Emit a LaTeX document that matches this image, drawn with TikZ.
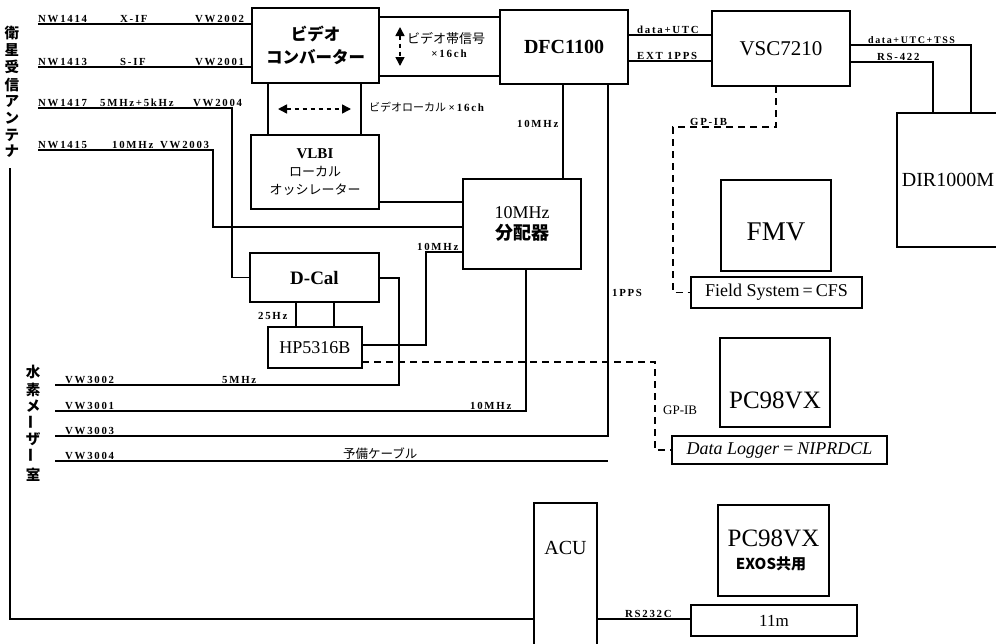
\documentclass[tikz,border=0pt]{standalone}
\usepackage{fontspec}
\setmainfont{Liberation Serif}
\newfontfamily\lbl[LetterSpace=16]{Liberation Serif}
\newfontfamily\jp{Noto Sans CJK JP}
\usetikzlibrary{arrows.meta}
\begin{document}
\begin{tikzpicture}[x=1pt,y=-1pt,
  box/.style={draw, line width=1.3pt, inner sep=0pt, outer sep=0pt, rectangle, align=center},
  wire/.style={line width=1.3pt},
  dsh/.style={line width=1.3pt, dash pattern=on 7pt off 5pt},
  lab/.style={inner sep=0pt, anchor=base west, font=\lbl\bfseries\fontsize{10.8}{12}\selectfont},
  vch/.style={inner sep=0pt, font=\jp\bfseries\fontsize{14.5}{14}\selectfont},
  darrow/.style={line width=1.5pt, dash pattern=on 4pt off 4pt, {Triangle[length=9pt,width=9pt]}-{Triangle[length=9pt,width=9pt]}},
]
\useasboundingbox (0,0) rectangle (996,643);
\fill[white] (0,0) rectangle (996,643);
\clip (0,0) rectangle (996,643);

% ---------- boxes ----------
\node[box, minimum width=127pt, minimum height=75pt, font=\jp\bfseries\fontsize{16.5}{23}\selectfont] (vc) at (315.5,45.5) {ビデオ\\コンバーター};
\node[box, minimum width=128pt, minimum height=74pt, font=\jp\fontsize{13}{18}\selectfont] (vlbi) at (315,172) {{\rmfamily\bfseries\fontsize{15}{18}\selectfont VLBI}\\ローカル\\オッシレーター};
\node[box, minimum width=128pt, minimum height=74pt, font=\bfseries\fontsize{20}{24}\selectfont] (dfc) at (564,47) {DFC1100};
\node[box, minimum width=138pt, minimum height=75pt, font=\fontsize{21}{24}\selectfont] (vsc) at (781,48.5) {VSC7210};
\node[box, minimum width=102pt, minimum height=134pt, font=\fontsize{20}{24}\selectfont] (dir) at (948,180) {DIR1000M};
\node[box, minimum width=110pt, minimum height=91pt] (fmv) at (776,225.5) {};
\node[font=\fontsize{27}{30}\selectfont] (fmvt) at (776,232) {FMV};
\node[box, minimum width=171pt, minimum height=31pt, font=\fontsize{18}{20}\selectfont] (fs) at (776.5,292.5) {Field System\,=\,CFS};
\node[box, minimum width=118pt, minimum height=90pt, font=\fontsize{18}{21}\selectfont] (div) at (522,224) {10MHz\\{\jp\bfseries 分配器}};
\node[box, minimum width=129pt, minimum height=49pt, font=\bfseries\fontsize{19}{22}\selectfont] (dcal) at (314.5,277.5) {D-Cal};
\node[box, minimum width=94pt, minimum height=41pt, font=\fontsize{18}{20}\selectfont] (hp) at (315,347.5) {HP5316B};
\node[box, minimum width=110pt, minimum height=89pt] (pc1) at (775,382.5) {};
\node[font=\fontsize{25}{28}\selectfont] (pc1t) at (775,400) {PC98VX};
\node[box, minimum width=215pt, minimum height=28pt, font=\itshape\fontsize{18}{20}\selectfont] (dl) at (779.5,450) {Data Logger\,=\,NIPRDCL};
\node[box, minimum width=111pt, minimum height=91pt] (pc2) at (773.5,550.5) {};
\node[font=\fontsize{25}{28}\selectfont] (pc2t) at (773.5,538) {PC98VX};
\node[font=\jp\bfseries\fontsize{15}{18}\selectfont] (pc2s) at (771,564) {EXOS共用};
\node[box, minimum width=166pt, minimum height=31pt, font=\fontsize{17}{20}\selectfont] (m11) at (774,620.5) {11m};
\node[box, minimum width=63pt, minimum height=157pt] (acu) at (565.5,581.5) {};
\node[font=\fontsize{20}{24}\selectfont] (acut) at (565.5,548) {ACU};

% ---------- vertical titles ----------
\node[vch] (t1) at (12,33) {衛};
\node[vch] (t2) at (12,50) {星};
\node[vch] (t3) at (12,67) {受};
\node[vch] (t4) at (12,85) {信};
\node[vch] (t5) at (12,101) {ア};
\node[vch] (t6) at (12,118) {ン};
\node[vch] (t7) at (12,135) {テ};
\node[vch] (t8) at (12,151) {ナ};
\node[vch] (h1) at (33,372) {水};
\node[vch] (h2) at (33,390) {素};
\node[vch] (h3) at (33,406) {メ};
\node[vch, rotate=90] (h4) at (33,422) {ー};
\node[vch] (h5) at (33,439) {ザ};
\node[vch, rotate=90] (h6) at (33,455) {ー};
\node[vch] (h7) at (33,475) {室};

% ---------- free line ends ----------
\coordinate (n1414) at (38,24);
\coordinate (n1413) at (38,67);
\coordinate (n1417) at (38,108);
\coordinate (n1415) at (38,150);
\coordinate (v3002) at (55,385);
\coordinate (v3001) at (55,411);
\coordinate (v3003) at (55,436);
\coordinate (v3004) at (55,461);
\coordinate (v3004e) at (608,461);
\coordinate (ant) at (10,168);

% ---------- connectors ----------
\draw[wire] (n1414) -- (n1414 -| vc.west);
\draw[wire] (n1413) -- (n1413 -| vc.west);
\draw[wire] (n1417) -- (232,108) |- (dcal.west);
\draw[wire] (n1415) -- (213,150) |- (div.west |- 0,227);
\draw[wire] (vlbi.east |- 0,202) -- (div.west |- 0,202);
\draw[wire] (vc.east |- 0,17) -- (dfc.west |- 0,17);
\draw[wire] (vc.east |- 0,76) -- (dfc.west |- 0,76);
\draw[wire] (vc.south -| 268,0) -- (vlbi.north -| 268,0);
\draw[wire] (vc.south -| 361,0) -- (vlbi.north -| 361,0);
\draw[wire] (dfc.east |- 0,35) -- (vsc.west |- 0,35);
\draw[wire] (dfc.east |- 0,61) -- (vsc.west |- 0,61);
\draw[wire] (vsc.east |- 0,45) -| (dir.north -| 971,0);
\draw[wire] (vsc.east |- 0,62) -| (dir.north -| 933,0);
\draw[wire] (dfc.south -| 563,0) -- (div.north -| 563,0);
\draw[wire] (dfc.south -| 608,0) |- (v3003);
\draw[wire] (div.south -| 526,0) |- (v3001);
\draw[wire] (dcal.east |- 0,278) -- (399,278) |- (v3002);
\draw[wire] (hp.east |- 0,345) -- (426,345) |- (div.west |- 0,252);
\draw[wire] (dcal.south -| 296,0) -- (hp.north -| 296,0);
\draw[wire] (dcal.south -| 334,0) -- (hp.north -| 334,0);
\draw[wire] (v3004) -- (v3004e);
\draw[wire] (ant) |- (acu.west |- 0,619);
\draw[wire] (acu.east |- 0,619) -- (m11.west |- 0,619);
\draw[dsh] (hp.east |- 0,362) -- (655,362) |- (dl.west);
\draw[dsh] (vsc.south -| 776,0) |- (673,127) |- (fs.west);
\draw[darrow] (400,27) -- (400,66);
\draw[darrow] (278,109) -- (351,109);

% ---------- labels ----------
\node[lab] at (38,22.5) {NW1414};
\node[lab] at (120,22.5) {X-IF};
\node[lab] at (195,22.5) {VW2002};
\node[lab] at (38,65.5) {NW1413};
\node[lab] at (120,65.5) {S-IF};
\node[lab] at (195,65.5) {VW2001};
\node[lab] at (38,106.5) {NW1417};
\node[lab] at (100,106.5) {5MHz+5kHz};
\node[lab] at (193,106.5) {VW2004};
\node[lab] at (38,148.5) {NW1415};
\node[lab] at (112,148.5) {10MHz};
\node[lab] at (160,148.5) {VW2003};
\node[lab] at (65,383.5) {VW3002};
\node[lab] at (222,383.5) {5MHz};
\node[lab] at (65,409) {VW3001};
\node[lab] at (470,409) {10MHz};
\node[lab] at (65,434) {VW3003};
\node[lab] at (65,459) {VW3004};
\node[inner sep=0pt, anchor=base west, font=\jp\fontsize{12.5}{14}\selectfont] at (343,458) {予備ケーブル};
\node[lab] at (637,33.5) {data+UTC};
\node[lab] at (637,59.5) {EXT 1PPS};
\node[lab, font=\lbl\bfseries\fontsize{10}{12}\selectfont] at (868,43.5) {data+UTC+TSS};
\node[lab] at (877,60) {RS-422};
\node[lab] at (690,125.5) {GP-IB};
\node[lab] at (517,127) {10MHz};
\node[lab] at (612,296) {1PPS};
\node[lab] at (417,250.5) {10MHz};
\node[lab] at (258,319) {25Hz};
\node[inner sep=0pt, anchor=base west, font=\fontsize{13}{15}\selectfont] at (663,414) {GP-IB};
\node[lab] at (625,617.5) {RS232C};
\node[inner sep=0pt, font=\jp\fontsize{13}{15}\selectfont] at (446,38) {ビデオ帯信号};
\node[inner sep=0pt, font=\lbl\bfseries\fontsize{11}{13}\selectfont] at (449,54) {×16ch};
\node[inner sep=0pt, anchor=west, font=\jp\fontsize{11}{13}\selectfont] at (369,107) {ビデオローカル {\lbl\bfseries ×\,16ch}};
\end{tikzpicture}
\end{document}
